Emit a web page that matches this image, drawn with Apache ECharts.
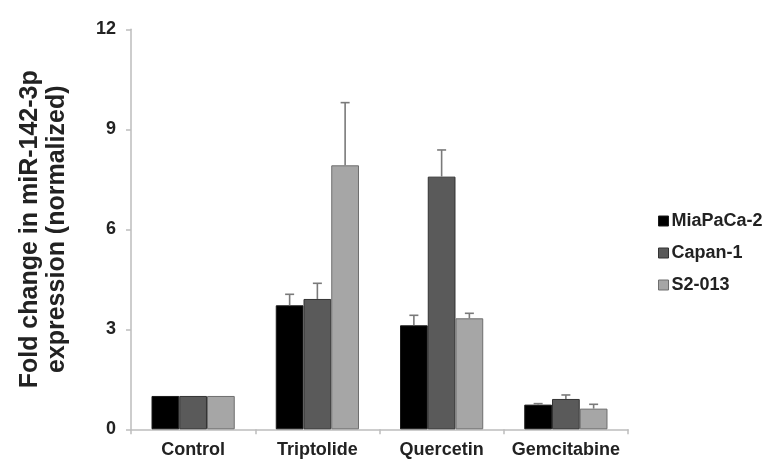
<!DOCTYPE html>
<html>
<head>
<meta charset="utf-8">
<script src="https://cdn.jsdelivr.net/npm/echarts@6/dist/echarts.min.js"></script>
<style>html,body{margin:0;padding:0;background:#fff}#c{width:777px;height:460px}</style>
</head>
<body>
<div id="c"></div>
<script>
const categories = ['Control', 'Triptolide', 'Quercetin', 'Gemcitabine'];
const seriesNames = ['MiaPaCa-2', 'Capan-1', 'S2-013'];
const miaPaCa = [1.0, 3.72, 3.12, 0.74];
const capan = [1.0, 3.91, 7.58, 0.91];
const s2013 = [1.0, 7.92, 3.33, 0.62];
const miaPaCaErr = [0, 0.33, 0.30, 0.03];
const capanErr = [0, 0.47, 0.80, 0.12];
const s2013Err = [0, 1.88, 0.15, 0.13];
const yTicks = [0, 3, 6, 9, 12];

const values = [miaPaCa, capan, s2013];
const errs = [miaPaCaErr, capanErr, s2013Err];
const fills = ['#000000', '#5a5a5a', '#a6a6a6'];
const borders = ['#1a1a1a', '#333333', '#6e6e6e'];
const FONT = 'Arial, "Liberation Sans", sans-serif';
const catGap = 0.33;

const chart = echarts.init(document.getElementById('c'), null, {renderer: 'canvas'});

const series = [];
values.forEach((vals, i) => {
  series.push({
    name: seriesNames[i],
    type: 'bar',
    data: vals,
    barGap: '0%',
    barCategoryGap: (catGap * 100) + '%',
    itemStyle: {color: fills[i], borderColor: borders[i], borderWidth: 1},
    emphasis: {disabled: true}
  });
});
values.forEach((vals, i) => {
  series.push({
    name: seriesNames[i] + ' err',
    type: 'custom',
    z: 5,
    data: vals.map((v, k) => [k, v, v + errs[i][k]]),
    encode: {x: 0, y: [1, 2]},
    renderItem: function (params, api) {
      const k = api.value(0);
      const v = api.value(1);
      const top = api.value(2);
      if (top - v <= 0) return null;
      const band = api.size([1, 0])[0];
      const bw = band * (1 - catGap) / 3;
      const base = api.coord([k, v]);
      const t = api.coord([k, top]);
      const x = base[0] + (i - 1) * bw;
      const half = 4.5;
      return {
        type: 'group',
        children: [
          {type: 'line', shape: {x1: x, y1: base[1], x2: x, y2: t[1]}, style: {stroke: '#7a7a7a', lineWidth: 1.6}},
          {type: 'line', shape: {x1: x - half, y1: t[1], x2: x + half, y2: t[1]}, style: {stroke: '#7a7a7a', lineWidth: 1.6}}
        ]
      };
    },
    silent: true
  });
});

chart.setOption({
  animation: false,
  backgroundColor: '#ffffff',
  grid: {left: 131, right: 149, top: 29.3, bottom: 30.7, containLabel: false},
  legend: {
    data: seriesNames.map((n, i) => ({name: n, itemStyle: {color: fills[i], borderColor: borders[i], borderWidth: 1}})),
    orient: 'vertical',
    left: 658,
    top: 212,
    padding: 0,
    itemWidth: 10,
    itemHeight: 10,
    itemGap: 14,
    icon: 'rect',
    textStyle: {fontFamily: FONT, fontSize: 18, fontWeight: 'bold', color: '#222', lineHeight: 18, padding: [0, 0, 0, -2]},
    selectedMode: false
  },
  xAxis: {
    type: 'category',
    data: categories,
    axisLine: {lineStyle: {color: '#bdbdbd', width: 1.5}},
    axisTick: {show: true, length: 5, lineStyle: {color: '#bdbdbd', width: 1.5}},
    axisLabel: {interval: 0, fontFamily: FONT, fontSize: 18, fontWeight: 'bold', color: '#222', margin: 12}
  },
  yAxis: {
    type: 'value',
    min: 0,
    max: 12,
    interval: 3,
    name: 'Fold change in miR-142-3p\nexpression (normalized)',
    nameLocation: 'middle',
    nameGap: 60,
    nameTextStyle: {fontFamily: FONT, fontSize: 25, fontWeight: 'bold', color: '#222', lineHeight: 27},
    axisLine: {show: true, lineStyle: {color: '#bdbdbd', width: 1.5}},
    axisTick: {show: true, length: 5, lineStyle: {color: '#bdbdbd', width: 1.5}},
    splitLine: {show: false},
    axisLabel: {
      fontFamily: FONT, fontSize: 18, fontWeight: 'bold', color: '#222', margin: 15,
      formatter: function (v) { return yTicks.indexOf(v) >= 0 ? String(v) : ''; }
    }
  },
  series: series
});
</script>
</body>
</html>
